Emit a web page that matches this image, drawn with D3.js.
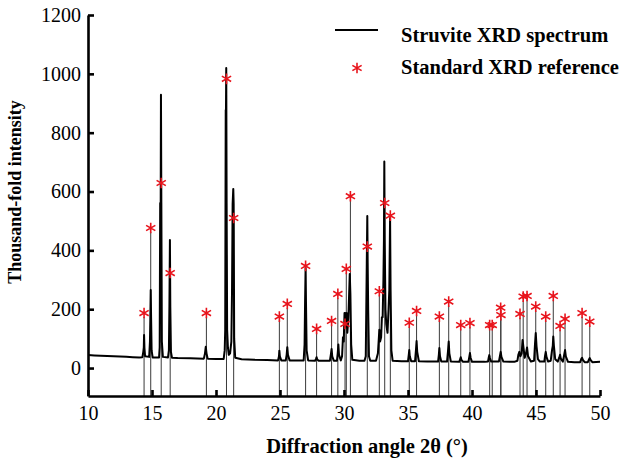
<!DOCTYPE html>
<html>
<head>
<meta charset="utf-8">
<script src="https://cdn.jsdelivr.net/npm/d3@7"></script>
<style>
  body { margin: 0; background: #fff; }
  svg text { font-family: "Liberation Serif", "Times New Roman", serif !important; }
</style>
</head>
<body>
<div id="chart"></div>
<script>
const xTicks = [10, 15, 20, 25, 30, 35, 40, 45, 50];
const yTicks = [0, 200, 400, 600, 800, 1000, 1200];

// measured spectrum: [2theta, intensity]
const spectrum = [
  [10.0,44],[10.5,43],[11.0,42],[11.5,41],[12.0,40],[12.5,39],[13.0,38],[13.5,37],[14.0,36],
  [14.25,37],[14.32,55],[14.36,70],[14.38,112],[14.41,68],[14.46,40],
  [14.78,38],[14.84,90],[14.87,170],[14.9,265],[14.93,170],[14.97,60],[15.05,36],
  [15.55,36],[15.6,70],[15.64,561],[15.68,561],[15.7,929],[15.73,561],[15.77,90],[15.85,38],
  [16.25,36],[16.32,60],[16.36,208],[16.4,435],[16.43,208],[16.48,55],[16.56,35],
  [17.0,34],[18.0,33],[19.05,32],[19.14,50],[19.2,72],[19.26,50],[19.35,32],
  [20.0,31],[20.6,31],[20.68,60],[20.72,130],[20.76,877],[20.78,877],[20.8,1020],[20.83,560],
  [20.87,130],[20.93,70],[21.0,45],[21.1,50],[21.2,90],[21.25,255],[21.3,558],[21.35,609],
  [21.38,558],[21.42,100],[21.5,35],
  [22.0,30],[23.0,28],[24.0,27],[24.85,26],[24.92,40],[24.95,59],[24.99,40],[25.1,26],
  [25.45,26],[25.52,45],[25.57,71],[25.62,45],[25.75,26],
  [26.5,26],[26.85,26],[26.92,80],[26.96,225],[27.0,340],[27.03,225],[27.08,60],[27.2,26],
  [27.75,25],[27.82,32],[27.86,37],[27.9,30],[28.0,25],
  [28.9,25],[28.97,45],[29.03,65],[29.08,40],[29.2,25],
  [29.45,25],[29.51,50],[29.56,80],[29.61,45],[29.75,26],[29.85,40],[29.92,105],[29.98,90],
  [30.04,187],[30.1,187],[30.14,140],[30.2,187],[30.26,120],[30.34,170],[30.4,250],[30.45,320],
  [30.5,250],[30.56,80],[30.65,28],
  [31.2,25],[31.6,25],[31.7,40],[31.74,197],[31.78,357],[31.82,517],[31.85,357],[31.89,197],
  [31.95,40],[32.05,25],
  [32.5,25],[32.65,50],[32.72,100],[32.76,130],[32.82,90],[32.9,105],[32.96,173],[33.02,173],
  [33.08,300],[33.12,435],[33.15,702],[33.18,435],[33.24,200],[33.3,150],[33.4,120],[33.48,200],
  [33.54,265],[33.6,510],[33.64,265],[33.7,60],[33.8,25],
  [34.5,23],[35.0,23],[35.06,45],[35.1,61],[35.14,40],[35.25,23],
  [35.55,23],[35.62,60],[35.67,92],[35.72,55],[35.85,23],
  [36.5,22],[37.35,22],[37.41,45],[37.45,68],[37.5,40],[37.6,22],
  [38.05,22],[38.12,55],[38.18,90],[38.23,50],[38.35,22],
  [39.0,21],[39.08,30],[39.12,37],[39.17,28],[39.3,21],
  [39.72,21],[39.79,38],[39.84,51],[39.89,35],[40.0,21],
  [41.0,21],[41.25,22],[41.31,36],[41.35,44],[41.4,34],[41.5,22],
  [42.1,22],[42.18,40],[42.24,55],[42.3,38],[42.45,22],
  [43.3,21],[43.55,25],[43.62,45],[43.7,55],[43.78,40],[43.88,50],[43.95,95],[44.02,70],
  [44.12,35],[44.22,50],[44.3,70],[44.38,40],[44.6,22],
  [44.85,25],[44.92,80],[44.98,119],[45.04,75],[45.15,30],[45.3,22],
  [45.65,22],[45.71,42],[45.76,55],[45.82,38],[45.95,22],
  [46.15,25],[46.25,60],[46.31,75],[46.35,107],[46.4,75],[46.5,30],
  [46.7,22],[46.82,36],[46.88,45],[46.94,32],[47.1,22],
  [47.2,45],[47.27,61],[47.33,40],[47.5,21],
  [48.0,20],[48.45,20],[48.55,32],[48.6,35],[48.66,28],[48.8,20],
  [49.05,20],[49.15,30],[49.2,34],[49.26,28],[49.4,20],[50.0,21]
];

// standard reference peaks
const refAngles = [14.38, 14.9, 15.72, 16.42, 19.25, 20.82, 21.38, 24.95, 25.57, 27.0,
  27.86, 29.03, 29.52, 30.08, 30.18, 30.5, 31.82, 32.76, 33.18, 33.62,
  35.1, 35.67, 37.45, 38.18, 39.12, 39.84, 41.38, 41.58, 42.24, 42.26,
  43.75, 44.0, 44.3, 44.98, 45.76, 46.35, 46.88, 47.27, 48.6, 49.2];
const refValues = [187, 476, 629, 323, 187, 983, 510, 175, 218, 347,
  133, 160, 252, 150, 337, 584, 413, 261, 561, 518,
  154, 194, 175, 226, 146, 153, 146, 146, 205, 180,
  184, 243, 245, 209, 175, 245, 143, 167, 187, 158];

const legendLabels = ["Struvite XRD spectrum", "Standard XRD reference"];

const W = 624, H = 467;
const margin = { top: 15, right: 24, bottom: 71, left: 88 },
  width = W - margin.left - margin.right,
  height = H - margin.top - margin.bottom;

const svg = d3.select("#chart")
  .append("svg")
  .attr("width", W)
  .attr("height", H);

const g = svg.append("g")
  .attr("transform", `translate(${margin.left},${margin.top})`);

const x = d3.scaleLinear().domain([10, 50]).range([0, width]);
const y = d3.scaleLinear().domain([-95, 1200]).range([height, 0]);

const refs = refAngles.map((a, i) => ({ a, v: refValues[i] }));
const red = "#e8141c";
const star = d3.symbol().type(d3.symbolAsterisk).size(80);

// reference sticks
g.selectAll(".stick")
  .data(refs)
  .enter().append("line")
  .attr("class", "stick")
  .attr("x1", d => x(d.a))
  .attr("x2", d => x(d.a))
  .attr("y1", y(-95))
  .attr("y2", d => y(d.v) + 4)
  .attr("stroke", "#3a3a3a")
  .attr("stroke-width", 1);

// spectrum
const line = d3.line().x(d => x(d[0])).y(d => y(d[1]));
g.append("path")
  .datum(spectrum)
  .attr("fill", "none")
  .attr("stroke", "#000")
  .attr("stroke-width", 2)
  .attr("stroke-linejoin", "round")
  .attr("d", line);

// stars
g.selectAll(".star")
  .data(refs)
  .enter().append("path")
  .attr("class", "star")
  .attr("d", star)
  .attr("transform", d => `translate(${x(d.a)},${y(d.v)})`)
  .attr("fill", "none")
  .attr("stroke", red)
  .attr("stroke-width", 1.6);

// axes
const xAxis = d3.axisBottom(x).tickValues(xTicks).tickFormat(d3.format("d"))
  .tickSizeInner(-6).tickSizeOuter(0).tickPadding(10);
const gx = g.append("g")
  .attr("transform", `translate(0,${height})`)
  .call(xAxis);

const yAxis = d3.axisLeft(y).tickValues(yTicks).tickFormat(d3.format("d"))
  .tickSizeInner(-6).tickSizeOuter(0).tickPadding(7);
const gy = g.append("g").call(yAxis);

[gx, gy].forEach(a => {
  a.attr("font-family", null).attr("font-size", null);
  a.select(".domain").attr("stroke", "#000").attr("stroke-width", 2.6);
  a.selectAll(".tick line").attr("stroke", "#000").attr("stroke-width", 2.6);
  a.selectAll(".tick text")
    .attr("fill", "#000")
    .style("font-family", "Liberation Serif")
    .style("font-size", "20px")
    .style("font-weight", "normal");
});

// axis titles
svg.append("text")
  .attr("x", 367)
  .attr("y", 453)
  .attr("text-anchor", "middle")
  .style("font-size", "20.5px")
  .style("font-weight", "bold")
  .text("Diffraction angle 2θ (°)");

svg.append("text")
  .attr("transform", "translate(21,192) rotate(-90)")
  .attr("text-anchor", "middle")
  .style("font-size", "18px")
  .style("font-weight", "bold")
  .text("Thousand-fold intensity");

// legend
const legend = svg.append("g").attr("transform", "translate(335,30)");

legend.append("line")
  .attr("x1", 0).attr("x2", 43)
  .attr("y1", 0).attr("y2", 0)
  .attr("stroke", "#000")
  .attr("stroke-width", 2);

legend.append("path")
  .attr("d", star)
  .attr("transform", "translate(22,38)")
  .attr("fill", "none")
  .attr("stroke", red)
  .attr("stroke-width", 1.6);

legend.selectAll(".lg")
  .data(legendLabels)
  .enter().append("text")
  .attr("x", 66)
  .attr("y", (d, i) => 12 + i * 32)
  .style("font-size", "20.5px")
  .style("font-weight", "bold")
  .text(d => d);
</script>
</body>
</html>
